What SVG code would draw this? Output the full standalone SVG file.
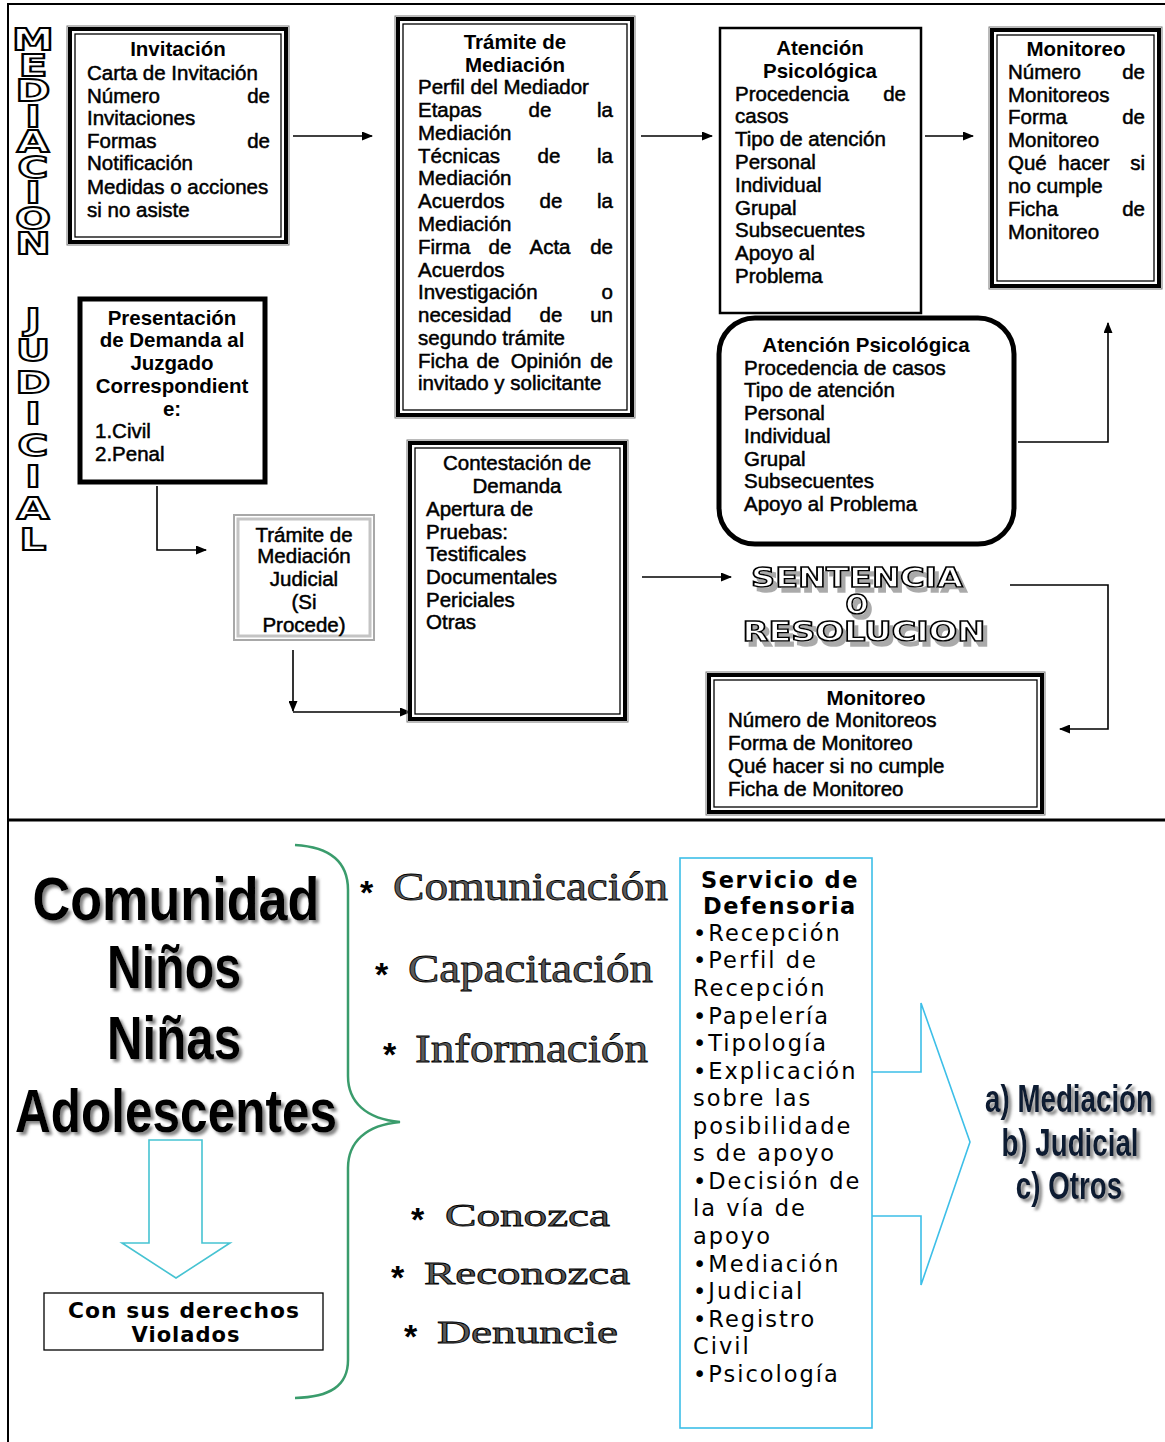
<svg xmlns="http://www.w3.org/2000/svg" width="1165" height="1442" viewBox="0 0 1165 1442">
<style>
.b{font-family:"Liberation Sans",Arial,sans-serif;font-size:20.5px;fill:#000;stroke:#000;stroke-width:.5}
.h{font-family:"Liberation Sans",Arial,sans-serif;font-size:20.5px;font-weight:bold;fill:#000}
.m{text-anchor:middle}
.e{text-anchor:end}
.g1{fill:none;stroke:#777;stroke-width:1}
.g2{fill:none;stroke:#000;stroke-width:4}
.g3{fill:none;stroke:#000;stroke-width:1.3}
.vl{font-family:"DejaVu Sans",sans-serif;font-weight:bold;font-size:30px;fill:#fff;stroke:#000;stroke-width:1.8;text-anchor:middle}
.con{fill:none;stroke:#000;stroke-width:1.6}
.sr{font-family:"DejaVu Sans",sans-serif;font-weight:bold;font-size:27px;text-anchor:middle;fill:#fff;stroke:#000;stroke-width:1.5}
.big{font-family:"Liberation Sans",Arial,sans-serif;font-weight:bold;font-size:62px;fill:#000;text-anchor:middle}
.ser{font-family:"Liberation Serif","Times New Roman",serif;fill:#5a5a5a;stroke:#000;stroke-width:.8}
.ast{font-family:"Liberation Sans",Arial,sans-serif;font-weight:bold;font-size:34px;fill:#000}
.sv{font-family:"DejaVu Sans",sans-serif;font-size:22.5px;letter-spacing:2px;fill:#000}
.svh{font-family:"DejaVu Sans",sans-serif;font-size:22.5px;font-weight:bold;letter-spacing:1.6px;fill:#000;text-anchor:middle}
.opt{font-family:"Liberation Sans",Arial,sans-serif;font-weight:bold;font-size:38px;fill:#0b1a33;text-anchor:middle}
</style>
<defs>
<marker id="ar" markerWidth="11" markerHeight="9" refX="10" refY="4.5" orient="auto" markerUnits="userSpaceOnUse">
<path d="M0,0 L11,4.5 L0,9 z" fill="#000"/>
</marker>
<filter id="sh" x="-10%" y="-20%" width="130%" height="150%">
<feDropShadow dx="3" dy="3" stdDeviation="1.5" flood-color="#777" flood-opacity="0.9"/>
</filter>
<filter id="sh2" x="-10%" y="-30%" width="130%" height="170%">
<feDropShadow dx="4" dy="5" stdDeviation="0.6" flood-color="#aaa" flood-opacity="1"/>
</filter>
</defs>

<!-- frame -->
<g id="frame" fill="none" stroke="#000">
<path d="M8,1442 V4 H1165" stroke-width="2"/>
<path d="M8,820 H1165" stroke-width="3"/>
</g>

<!-- vertical labels -->
<g id="label-mediacion">
<text class="vl" transform="translate(33,50) scale(1.4,1)">M</text>
<text class="vl" transform="translate(33,75.5) scale(1.4,1)">E</text>
<text class="vl" transform="translate(33,101) scale(1.4,1)">D</text>
<text class="vl" transform="translate(33,126.5) scale(1.4,1)">I</text>
<text class="vl" transform="translate(33,152) scale(1.4,1)">A</text>
<text class="vl" transform="translate(33,177.5) scale(1.4,1)">C</text>
<text class="vl" transform="translate(33,203) scale(1.4,1)">I</text>
<text class="vl" transform="translate(33,228.5) scale(1.4,1)">O</text>
<text class="vl" transform="translate(33,254) scale(1.4,1)">N</text>
</g>
<g id="label-judicial">
<text class="vl" transform="translate(33,330) scale(1.4,1)">J</text>
<text class="vl" transform="translate(33,361) scale(1.4,1)">U</text>
<text class="vl" transform="translate(33,393) scale(1.4,1)">D</text>
<text class="vl" transform="translate(33,424) scale(1.4,1)">I</text>
<text class="vl" transform="translate(33,456) scale(1.4,1)">C</text>
<text class="vl" transform="translate(33,487) scale(1.4,1)">I</text>
<text class="vl" transform="translate(33,519) scale(1.4,1)">A</text>
<text class="vl" transform="translate(33,550) scale(1.4,1)">L</text>
</g>

<!-- connectors -->
<g id="connectors">
<path class="con" d="M293,136 H372" marker-end="url(#ar)"/>
<path class="con" d="M641,136 H712" marker-end="url(#ar)"/>
<path class="con" d="M925,136 H973" marker-end="url(#ar)"/>
<path class="con" d="M157,486 V550 H206" marker-end="url(#ar)"/>
<path class="con" d="M293,650 V711" marker-end="url(#ar)"/>
<path class="con" d="M293,712 H410" marker-end="url(#ar)"/>
<path class="con" d="M642,577 H731" marker-end="url(#ar)"/>
<path class="con" d="M1010,585 H1108 V729 H1060" marker-end="url(#ar)"/>
<path class="con" d="M1018,442 H1108 V323" marker-end="url(#ar)"/>
</g>

<!-- Invitacion -->
<g id="n-invitacion">
<rect class="g1" x="67" y="26" width="222" height="219"/>
<rect class="g2" x="70" y="29" width="216" height="213"/>
<rect class="g3" x="75" y="34" width="206" height="203"/>
<text class="h m" x="178" y="56">Invitación</text>
<text class="b" x="87" y="80">Carta de Invitación</text>
<text class="b" x="87" y="103">Número</text><text class="b e" x="270" y="103">de</text>
<text class="b" x="87" y="125">Invitaciones</text>
<text class="b" x="87" y="148">Formas</text><text class="b e" x="270" y="148">de</text>
<text class="b" x="87" y="170">Notificación</text>
<text class="b" x="87" y="194">Medidas o acciones</text>
<text class="b" x="87" y="217">si no asiste</text>
</g>

<!-- Tramite de Mediacion -->
<g id="n-tramite">
<rect class="g1" x="395" y="16" width="240" height="402"/>
<rect class="g2" x="398" y="19" width="234" height="396"/>
<rect class="g3" x="403" y="24" width="224" height="386"/>
<text class="h m" x="515" y="49">Trámite de</text>
<text class="h m" x="515" y="72">Mediación</text>
<text class="b" x="418" y="94">Perfil del Mediador</text>
<text class="b" x="418" y="117">Etapas</text><text class="b m" x="540" y="117">de</text><text class="b e" x="613" y="117">la</text>
<text class="b" x="418" y="140">Mediación</text>
<text class="b" x="418" y="163">Técnicas</text><text class="b m" x="549" y="163">de</text><text class="b e" x="613" y="163">la</text>
<text class="b" x="418" y="185">Mediación</text>
<text class="b" x="418" y="208">Acuerdos</text><text class="b m" x="551" y="208">de</text><text class="b e" x="613" y="208">la</text>
<text class="b" x="418" y="231">Mediación</text>
<text class="b" x="418" y="254">Firma</text><text class="b m" x="500" y="254">de</text><text class="b m" x="550" y="254">Acta</text><text class="b e" x="613" y="254">de</text>
<text class="b" x="418" y="277">Acuerdos</text>
<text class="b" x="418" y="299">Investigación</text><text class="b e" x="613" y="299">o</text>
<text class="b" x="418" y="322">necesidad</text><text class="b m" x="551" y="322">de</text><text class="b e" x="613" y="322">un</text>
<text class="b" x="418" y="345">segundo trámite</text>
<text class="b" x="418" y="368">Ficha</text><text class="b m" x="488" y="368">de</text><text class="b m" x="546" y="368">Opinión</text><text class="b e" x="613" y="368">de</text>
<text class="b" x="418" y="390">invitado y solicitante</text>
</g>

<!-- Atencion Psicologica (top) -->
<g id="n-atencion1">
<rect x="720" y="28" width="201" height="285" fill="none" stroke="#000" stroke-width="2.5"/>
<text class="h m" x="820" y="55">Atención</text>
<text class="h m" x="820" y="78">Psicológica</text>
<text class="b" x="735" y="101">Procedencia</text><text class="b e" x="906" y="101">de</text>
<text class="b" x="735" y="123">casos</text>
<text class="b" x="735" y="146">Tipo de atención</text>
<text class="b" x="735" y="169">Personal</text>
<text class="b" x="735" y="192">Individual</text>
<text class="b" x="735" y="215">Grupal</text>
<text class="b" x="735" y="237">Subsecuentes</text>
<text class="b" x="735" y="260">Apoyo al</text>
<text class="b" x="735" y="283">Problema</text>
</g>

<!-- Monitoreo (top) -->
<g id="n-monitoreo1">
<rect class="g1" x="989" y="27" width="173" height="262"/>
<rect class="g2" x="992" y="30" width="167" height="256"/>
<rect class="g3" x="997" y="35" width="157" height="246"/>
<text class="h m" x="1076" y="56">Monitoreo</text>
<text class="b" x="1008" y="79">Número</text><text class="b e" x="1145" y="79">de</text>
<text class="b" x="1008" y="102">Monitoreos</text>
<text class="b" x="1008" y="124">Forma</text><text class="b e" x="1145" y="124">de</text>
<text class="b" x="1008" y="147">Monitoreo</text>
<text class="b" x="1008" y="170">Qué</text><text class="b m" x="1084" y="170">hacer</text><text class="b e" x="1145" y="170">si</text>
<text class="b" x="1008" y="193">no cumple</text>
<text class="b" x="1008" y="216">Ficha</text><text class="b e" x="1145" y="216">de</text>
<text class="b" x="1008" y="239">Monitoreo</text>
</g>

<!-- Presentacion de Demanda -->
<g id="n-presentacion">
<rect x="80" y="299" width="185" height="183" fill="none" stroke="#000" stroke-width="5"/>
<text class="h m" x="172" y="325">Presentación</text>
<text class="h m" x="172" y="347">de Demanda al</text>
<text class="h m" x="172" y="370">Juzgado</text>
<text class="h m" x="172" y="393">Correspondient</text>
<text class="h m" x="172" y="416">e:</text>
<text class="b" x="95" y="438">1.Civil</text>
<text class="b" x="95" y="461">2.Penal</text>
</g>

<!-- Tramite de Mediacion Judicial -->
<g id="n-tramite-judicial">
<rect x="234" y="515" width="140" height="125" fill="none" stroke="#a8a8a8" stroke-width="2"/>
<rect x="238" y="519" width="132" height="117" fill="none" stroke="#c4c4c4" stroke-width="3"/>
<text class="b m" x="304" y="542">Trámite de</text>
<text class="b m" x="304" y="563">Mediación</text>
<text class="b m" x="304" y="586">Judicial</text>
<text class="b m" x="304" y="609">(Si</text>
<text class="b m" x="304" y="632">Procede)</text>
</g>

<!-- Contestacion de Demanda -->
<g id="n-contestacion">
<rect class="g1" x="407" y="440" width="221" height="282"/>
<rect class="g2" x="410" y="443" width="215" height="276"/>
<rect class="g3" x="415" y="448" width="205" height="266"/>
<text class="b m" x="517" y="470">Contestación de</text>
<text class="b m" x="517" y="493">Demanda</text>
<text class="b" x="426" y="516">Apertura de</text>
<text class="b" x="426" y="539">Pruebas:</text>
<text class="b" x="426" y="561">Testificales</text>
<text class="b" x="426" y="584">Documentales</text>
<text class="b" x="426" y="607">Periciales</text>
<text class="b" x="426" y="629">Otras</text>
</g>

<!-- Atencion Psicologica (rounded) -->
<g id="n-atencion2">
<rect x="719" y="318" width="295" height="226" rx="36" ry="36" fill="#fff" stroke="#000" stroke-width="5"/>
<text class="h m" x="866" y="352">Atención Psicológica</text>
<text class="b" x="744" y="375">Procedencia de casos</text>
<text class="b" x="744" y="397">Tipo de atención</text>
<text class="b" x="744" y="420">Personal</text>
<text class="b" x="744" y="443">Individual</text>
<text class="b" x="744" y="466">Grupal</text>
<text class="b" x="744" y="488">Subsecuentes</text>
<text class="b" x="744" y="511">Apoyo al Problema</text>
</g>

<!-- Sentencia o Resolucion -->
<g id="n-sentencia" filter="url(#sh2)">
<text class="sr" x="857" y="587" textLength="212" lengthAdjust="spacingAndGlyphs">SENTENCIA</text>
<text class="sr" x="857" y="614">O</text>
<text class="sr" x="864" y="641" textLength="243" lengthAdjust="spacingAndGlyphs">RESOLUCION</text>
</g>

<!-- Monitoreo (bottom) -->
<g id="n-monitoreo2">
<rect class="g1" x="706" y="672" width="339" height="143"/>
<rect class="g2" x="709" y="675" width="333" height="137"/>
<rect class="g3" x="714" y="680" width="323" height="127"/>
<text class="h m" x="876" y="705">Monitoreo</text>
<text class="b" x="728" y="727">Número de Monitoreos</text>
<text class="b" x="728" y="750">Forma de Monitoreo</text>
<text class="b" x="728" y="773">Qué hacer si no cumple</text>
<text class="b" x="728" y="796">Ficha de Monitoreo</text>
</g>

<!-- Bottom section -->
<g id="n-comunidad" filter="url(#sh)">
<text class="big" x="176" y="920" textLength="287" lengthAdjust="spacingAndGlyphs">Comunidad</text>
<text class="big" x="174" y="988" textLength="134" lengthAdjust="spacingAndGlyphs">Niños</text>
<text class="big" x="174" y="1059" textLength="134" lengthAdjust="spacingAndGlyphs">Niñas</text>
<text class="big" x="176" y="1132" textLength="322" lengthAdjust="spacingAndGlyphs">Adolescentes</text>
</g>

<g id="down-arrow">
<polygon points="149,1140 202,1140 202,1243 230,1243 176,1278 122,1243 149,1243" fill="none" stroke="#46c3d2" stroke-width="1.6"/>
</g>

<g id="n-derechos">
<rect x="44" y="1293" width="279" height="57" fill="none" stroke="#000" stroke-width="1.3"/>
<text x="184" y="1318" text-anchor="middle" font-family="DejaVu Sans, sans-serif" font-weight="bold" font-size="21" letter-spacing="1" textLength="232" lengthAdjust="spacingAndGlyphs">Con sus derechos</text>
<text x="186" y="1342" text-anchor="middle" font-family="DejaVu Sans, sans-serif" font-weight="bold" font-size="21" letter-spacing="1">Violados</text>
</g>

<g id="brace">
<path d="M295,845 C330,847 348,862 348,890 V1076 C348,1102 366,1119 400,1122 C366,1125 348,1142 348,1168 V1360 C348,1386 330,1397 295,1398" fill="none" stroke="#3a9c6c" stroke-width="2.5"/>
</g>

<g id="n-acciones">
<text class="ast" x="360" y="904">*</text>
<text class="ser" x="393" y="900" font-size="40" textLength="275" lengthAdjust="spacingAndGlyphs">Comunicación</text>
<text class="ast" x="375" y="986">*</text>
<text class="ser" x="408" y="982" font-size="40" textLength="245" lengthAdjust="spacingAndGlyphs">Capacitación</text>
<text class="ast" x="383" y="1066">*</text>
<text class="ser" x="415" y="1062" font-size="40" textLength="233" lengthAdjust="spacingAndGlyphs">Información</text>
<text class="ast" x="411" y="1231" font-size="28">*</text>
<text class="ser" x="445" y="1226" font-size="31" textLength="165" lengthAdjust="spacingAndGlyphs">Conozca</text>
<text class="ast" x="391" y="1289" font-size="28">*</text>
<text class="ser" x="424" y="1284" font-size="31" textLength="206" lengthAdjust="spacingAndGlyphs">Reconozca</text>
<text class="ast" x="404" y="1348" font-size="28">*</text>
<text class="ser" x="437" y="1343" font-size="31" textLength="181" lengthAdjust="spacingAndGlyphs">Denuncie</text>
</g>

<g id="n-servicio">
<rect x="680" y="858" width="192" height="570" fill="#fff" stroke="#3dbfe8" stroke-width="1.6"/>
<text class="svh" x="780" y="888">Servicio de</text>
<text class="svh" x="780" y="914">Defensoria</text>
<text class="sv" x="693" y="941">•Recepción</text>
<text class="sv" x="693" y="968">•Perfil de</text>
<text class="sv" x="693" y="996">Recepción</text>
<text class="sv" x="693" y="1024">•Papelería</text>
<text class="sv" x="693" y="1051">•Tipología</text>
<text class="sv" x="693" y="1079">•Explicación</text>
<text class="sv" x="693" y="1106">sobre las</text>
<text class="sv" x="693" y="1134">posibilidade</text>
<text class="sv" x="693" y="1161">s de apoyo</text>
<text class="sv" x="693" y="1189">•Decisión de</text>
<text class="sv" x="693" y="1216">la vía de</text>
<text class="sv" x="693" y="1244">apoyo</text>
<text class="sv" x="693" y="1272">•Mediación</text>
<text class="sv" x="693" y="1299">•Judicial</text>
<text class="sv" x="693" y="1327">•Registro</text>
<text class="sv" x="693" y="1354">Civil</text>
<text class="sv" x="693" y="1382">•Psicología</text>
</g>

<g id="big-arrow">
<polyline points="872,1072 921,1072 921,1003 970,1142 921,1285 921,1216 872,1216" fill="none" stroke="#3dbfe8" stroke-width="1.6"/>
</g>

<g id="n-opciones" filter="url(#sh)">
<text class="opt" transform="translate(1069,1112) scale(0.73,1)">a) Mediación</text>
<text class="opt" transform="translate(1070,1156) scale(0.73,1)">b) Judicial</text>
<text class="opt" transform="translate(1069,1199) scale(0.73,1)">c) Otros</text>
</g>
</svg>
